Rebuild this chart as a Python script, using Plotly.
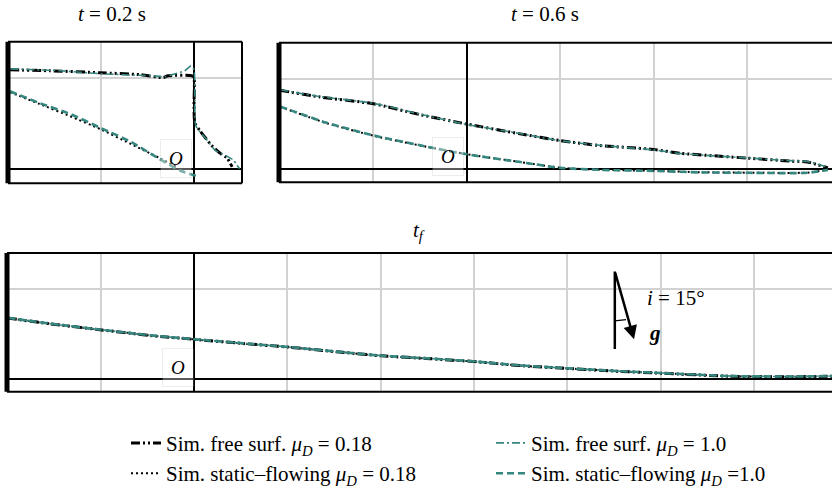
import plotly.graph_objects as go

W, H = 832, 494
TEAL = "#36877f"
FONT = "Liberation Serif, Times New Roman, serif"

# ---------------- data (grid units, origin O) ----------------
# t = 0.2 s
tl_fs018_x = [-1.98, -1.55, -1.01, -0.58, -0.33, -0.28, -0.02, 0.0, 0.0, 0.01, 0.065, 0.19, 0.28, 0.355, 0.41]
tl_fs018_y = [1.085, 1.075, 1.053, 1.032, 1.0, 1.02, 1.02, 1.0, 0.68, 0.50, 0.415, 0.255, 0.17, 0.117, 0.02]
tl_fs10_x = [-1.98, -1.44, -1.01, -0.47, -0.31, -0.24, -0.10, -0.03, 0.0, 0.01, 0.02, 0.12, 0.23, 0.33, 0.42, 0.49]
tl_fs10_y = [1.096, 1.075, 1.043, 1.02, 1.01, 1.03, 1.075, 1.13, 1.085, 0.79, 0.47, 0.34, 0.20, 0.15, 0.096, 0.0]
tl_sf018_x = [-1.98, -1.66, -1.33, -1.01, -0.69, -0.37, -0.17]
tl_sf018_y = [0.84, 0.71, 0.575, 0.436, 0.277, 0.117, 0.01]
tl_sf10_x = [-1.98, -1.66, -1.33, -1.01, -0.69, -0.37, -0.15, 0.04]
tl_sf10_y = [0.85, 0.72, 0.60, 0.45, 0.30, 0.106, -0.02, -0.085]

# t = 0.6 s
tr_fs018_x = [-2.0, -1.57, -1.0, -0.5, 0.0, 0.57, 1.0, 1.42, 1.99, 2.28, 3.0, 3.45, 3.64, 3.86]
tr_fs018_y = [0.87, 0.795, 0.72, 0.60, 0.495, 0.387, 0.312, 0.258, 0.215, 0.172, 0.118, 0.086, 0.075, 0.01]
tr_fs10_x = [-2.0, -1.57, -1.0, -0.5, 0.0, 0.57, 1.0, 1.42, 1.99, 2.28, 3.0, 3.45, 3.64, 3.86]
tr_fs10_y = [0.875, 0.80, 0.725, 0.605, 0.49, 0.39, 0.31, 0.26, 0.21, 0.17, 0.12, 0.09, 0.08, 0.015]
tr_sf018_x = [-2.0, -1.5, -1.0, -0.5, 0.0, 0.57, 1.0, 1.42, 1.99, 2.49, 3.0, 3.64, 3.86]
tr_sf018_y = [0.688, 0.505, 0.366, 0.258, 0.161, 0.075, 0.011, -0.011, -0.022, -0.038, -0.043, -0.043, -0.011]
tr_sf10_x = [-2.0, -1.5, -1.0, -0.5, 0.0, 0.57, 1.0, 1.42, 1.99, 2.49, 3.0, 3.64, 3.86]
tr_sf10_y = [0.69, 0.51, 0.37, 0.26, 0.16, 0.074, 0.01, -0.012, -0.024, -0.04, -0.045, -0.045, -0.012]

# final deposit t_f
bt_x = [-2.0, -1.54, -1.01, -0.47, 0.0, 0.49, 1.01, 1.56, 2.01, 2.53, 3.01, 3.49, 4.01, 4.57, 5.02, 5.74, 6.39, 6.84]
bt_fs018_y = [0.677, 0.613, 0.548, 0.484, 0.441, 0.398, 0.355, 0.30, 0.258, 0.226, 0.194, 0.15, 0.118, 0.086, 0.065, 0.032, 0.027, 0.032]
bt_fs10_y = [0.68, 0.615, 0.55, 0.486, 0.443, 0.40, 0.356, 0.302, 0.26, 0.228, 0.196, 0.152, 0.12, 0.088, 0.067, 0.034, 0.029, 0.034]

labels = {
    "fs018": "Sim. free surf. <i>μ</i><sub><i>D</i></sub> = 0.18",
    "sf018": "Sim. static–flowing <i>μ</i><sub><i>D</i></sub> = 0.18",
    "fs10": "Sim. free surf. <i>μ</i><sub><i>D</i></sub> = 1.0",
    "sf10": "Sim. static–flowing <i>μ</i><sub><i>D</i></sub> =1.0",
}
styles = {
    "fs018": dict(color="black", width=3, dash="9px,3px,2px,3px,2px,3px"),
    "sf018": dict(color="black", width=2, dash="2px,3px"),
    "fs10": dict(color=TEAL, width=1.6, dash="8px,3px,2px,3px"),
    "sf10": dict(color=TEAL, width=2.6, dash="7px,4px"),
}
legend_of = {"fs018": "legend", "sf018": "legend", "fs10": "legend2", "sf10": "legend2"}

panels = [
    ("x", "y", {"sf018": (tl_sf018_x, tl_sf018_y), "fs018": (tl_fs018_x, tl_fs018_y),
                "sf10": (tl_sf10_x, tl_sf10_y), "fs10": (tl_fs10_x, tl_fs10_y)}),
    ("x2", "y2", {"sf018": (tr_sf018_x, tr_sf018_y), "fs018": (tr_fs018_x, tr_fs018_y),
                  "sf10": (tr_sf10_x, tr_sf10_y), "fs10": (tr_fs10_x, tr_fs10_y)}),
    ("x3", "y3", {"sf018": (bt_x, bt_fs018_y), "fs018": (bt_x, bt_fs018_y),
                  "sf10": (bt_x, bt_fs10_y), "fs10": (bt_x, bt_fs10_y)}),
]

fig = go.Figure()
order = ["fs018", "sf018", "fs10", "sf10"]
for pi, (xa, ya, d) in enumerate(panels):
    for key in ["sf018", "fs018", "sf10", "fs10"]:
        xs, ys = d[key]
        fig.add_trace(go.Scatter(
            x=xs, y=ys, xaxis=xa, yaxis=ya, mode="lines",
            line=dict(shape="spline", smoothing=0.6, **styles[key]),
            name=labels[key], legendgroup=key, showlegend=(pi == 0),
            legend=legend_of[key], legendrank=order.index(key) + 1,
        ))

def px2x(p): return p / W
def py2y(p): return 1 - p / H

ax_common = dict(showgrid=True, gridcolor="#d2d2d2", gridwidth=2, dtick=1, tick0=0,
                 zeroline=True, zerolinecolor="black", zerolinewidth=1.6,
                 showticklabels=False, ticks="", showline=False, fixedrange=True)

LFS = 21
fig.update_layout(
    width=W, height=H, margin=dict(l=0, r=0, t=0, b=0),
    plot_bgcolor="white", paper_bgcolor="white",
    font=dict(family=FONT, size=LFS, color="black"),
    xaxis=dict(domain=[px2x(8), px2x(242)], range=[-2.0, 0.516], anchor="y", **ax_common),
    yaxis=dict(domain=[py2y(189), py2y(43)], range=[-0.16, 1.394], anchor="x", **ax_common),
    xaxis2=dict(domain=[px2x(279), 1.0], range=[-2.01, 3.904], anchor="y2", **ax_common),
    yaxis2=dict(domain=[py2y(188), py2y(44)], range=[-0.15, 1.398], anchor="x2", **ax_common),
    xaxis3=dict(domain=[px2x(7), 1.0], range=[-2.005, 6.838], anchor="y3", **ax_common),
    yaxis3=dict(domain=[py2y(404), py2y(261)], range=[-0.14, 1.398], anchor="x3", **ax_common),
    legend=dict(x=px2x(126), y=py2y(436), xanchor="left", yanchor="top",
                font=dict(family=FONT, size=LFS), bgcolor="rgba(0,0,0,0)", tracegroupgap=0),
    legend2=dict(x=px2x(491), y=py2y(436), xanchor="left", yanchor="top",
                 font=dict(family=FONT, size=LFS), bgcolor="rgba(0,0,0,0)", tracegroupgap=0),
    showlegend=True,
)

# panel frames and walls
shapes = []
for xa, ya, right in [("x", "y", True), ("x2", "y2", False), ("x3", "y3", False)]:
    xr, yr = xa + " domain", ya + " domain"
    ln = dict(color="black", width=2)
    shapes.append(dict(type="line", xref=xr, yref=yr, x0=0, x1=1, y0=1, y1=1, line=ln))
    shapes.append(dict(type="line", xref=xr, yref=yr, x0=0, x1=1, y0=0, y1=0, line=ln))
    if right:
        shapes.append(dict(type="line", xref=xr, yref=yr, x0=1, x1=1, y0=0, y1=1, line=ln))
    shapes.append(dict(type="line", xref=xr, yref=yr, x0=0, x1=0, y0=0, y1=1,
                       line=dict(color="black", width=5)))
# gravity diagram (bottom panel)
shapes.append(dict(type="line", xref="x3", yref="y3", x0=4.51, x1=4.51, y0=1.194, y1=0.333,
                   line=dict(color="black", width=2.5)))
shapes.append(dict(type="line", xref="x3", yref="y3", x0=4.51, x1=4.63, y0=0.645, y1=0.66,
                   line=dict(color="black", width=1.2)))
fig.update_layout(shapes=shapes)

ann = []
# titles
ann.append(dict(text="<i>t</i> = 0.2 s", x=px2x(112), y=py2y(14), xref="paper", yref="paper",
                xanchor="center", yanchor="middle", showarrow=False, font=dict(family=FONT, size=LFS)))
ann.append(dict(text="<i>t</i> = 0.6 s", x=px2x(545), y=py2y(14), xref="paper", yref="paper",
                xanchor="center", yanchor="middle", showarrow=False, font=dict(family=FONT, size=LFS)))
ann.append(dict(text="<i>t</i><sub><i>f</i></sub>", x=px2x(419), y=py2y(238), xref="paper", yref="paper",
                xanchor="center", yanchor="middle", showarrow=False, font=dict(family=FONT, size=LFS)))
# origin labels
for xa, ya, xo, yo in [("x", "y", -0.19, 0.117), ("x2", "y2", -0.20, 0.14), ("x3", "y3", -0.17, 0.13)]:
    ann.append(dict(text="<i>O</i>", x=xo, y=yo, xref=xa, yref=ya, showarrow=False,
                    xanchor="center", yanchor="middle",
                    font=dict(family=FONT, size=19), bgcolor="rgba(255,255,255,0.35)",
                    bordercolor="rgba(0,0,0,0.07)", borderwidth=1, borderpad=8))
# gravity arrow
ann.append(dict(x=4.716, y=0.441, ax=4.51, ay=1.194, xref="x3", yref="y3", axref="x3", ayref="y3",
                showarrow=True, arrowhead=2, arrowsize=1.1, arrowwidth=2.5, arrowcolor="black", text=""))
ann.append(dict(text="<i>i</i> = 15°", x=px2x(645), y=py2y(307), xref="paper", yref="paper",
                xanchor="left", yanchor="middle", showarrow=False, font=dict(family=FONT, size=LFS)))
ann.append(dict(text="<b><i>g</i></b>", x=px2x(647), y=py2y(343), xref="paper", yref="paper",
                xanchor="left", yanchor="middle", showarrow=False, font=dict(family=FONT, size=LFS)))
fig.update_layout(annotations=ann)

fig.write_html("out.html", config={"displayModeBar": False},
               post_script="document.body.style.margin='0';document.body.style.overflow='hidden';")
